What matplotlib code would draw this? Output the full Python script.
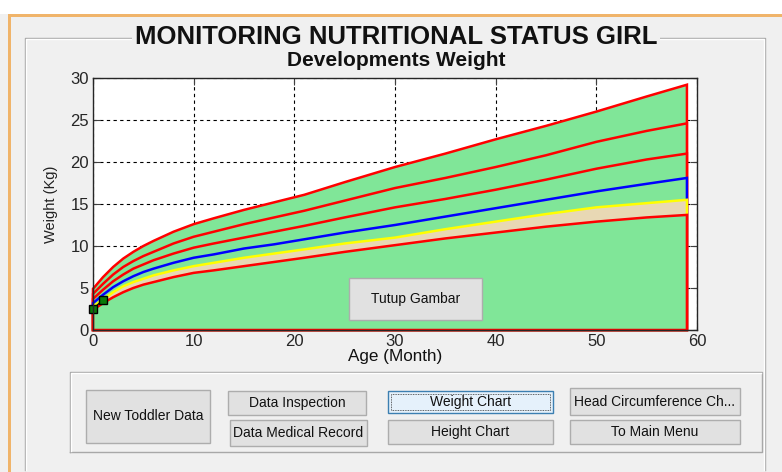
import matplotlib
matplotlib.use("Agg")
import matplotlib.pyplot as plt
from matplotlib.patches import Rectangle
from matplotlib.lines import Line2D

plt.rcParams['font.family'] = ['Liberation Sans', 'DejaVu Sans']

# ---- data ----
months = [0, 1, 2, 3, 4, 5, 6, 8, 10, 12, 15, 18, 21, 25, 30, 35, 40, 45, 50, 55, 59]
sd_p3 = [4.9, 6.3, 7.5, 8.5, 9.3, 10.0, 10.6, 11.7, 12.6, 13.3, 14.3, 15.2, 16.1, 17.6, 19.4, 21.0, 22.7, 24.3, 26.0, 27.8, 29.2]
sd_p2 = [4.3, 5.5, 6.6, 7.5, 8.2, 8.8, 9.3, 10.3, 11.1, 11.7, 12.6, 13.4, 14.2, 15.4, 16.9, 18.1, 19.4, 20.8, 22.4, 23.7, 24.6]
sd_p1 = [3.7, 4.8, 5.8, 6.6, 7.3, 7.8, 8.3, 9.1, 9.8, 10.3, 11.0, 11.7, 12.4, 13.4, 14.6, 15.6, 16.7, 17.9, 19.2, 20.3, 21.0]
sd_0 = [3.2, 4.2, 5.1, 5.8, 6.4, 6.9, 7.3, 8.0, 8.6, 9.0, 9.7, 10.2, 10.8, 11.6, 12.5, 13.5, 14.5, 15.5, 16.5, 17.4, 18.1]
sd_m1 = [2.8, 3.6, 4.5, 5.2, 5.7, 6.1, 6.5, 7.1, 7.6, 8.0, 8.6, 9.1, 9.6, 10.3, 11.0, 12.0, 12.9, 13.8, 14.6, 15.1, 15.5]
sd_m2 = [2.4, 3.2, 3.9, 4.5, 5.0, 5.4, 5.7, 6.3, 6.8, 7.1, 7.6, 8.1, 8.6, 9.3, 10.1, 10.9, 11.6, 12.3, 12.9, 13.4, 13.7]
child_age = [0, 1]
child_weight = [2.5, 3.6]

xticks = [0, 10, 20, 30, 40, 50, 60]
yticks = [0, 5, 10, 15, 20, 25, 30]

W, H = 782, 472
fig = plt.figure(figsize=(W / 100, H / 100), dpi=100)
fig.patch.set_facecolor('#f0f0f0')


def fx(x):
    return x / W


def fy(y):
    return 1 - y / H


def rect_px(x0, y0, x1, y1, **kw):
    r = Rectangle((fx(x0), fy(y1)), fx(x1) - fx(x0), fy(y0) - fy(y1),
                  transform=fig.transFigure, **kw)
    fig.add_artist(r)
    return r


def line_px(xs, ys, **kw):
    l = Line2D([fx(v) for v in xs], [fy(v) for v in ys], transform=fig.transFigure, **kw)
    fig.add_artist(l)
    return l


# window chrome
rect_px(0, 0, W, 14, facecolor='white', edgecolor='none', zorder=0)
rect_px(8, 14, W, 17, facecolor='#f0b46a', edgecolor='none', zorder=1)
rect_px(8, 14, 11, H, facecolor='#f0b46a', edgecolor='none', zorder=1)

# main panel border (etched)
line_px([25, 25, 765, 765], [470, 38, 38, 470], color='#a8a8a8', lw=1.0, zorder=1)
line_px([26, 26, 764, 764], [470, 39, 39, 470], color='white', lw=1.0, zorder=1)

# panel titles
fig.text(fx(396), fy(37), 'MONITORING NUTRITIONAL STATUS GIRL', ha='center', va='center',
         fontsize=18.5, fontweight='bold', color='#111111',
         bbox=dict(facecolor='#f0f0f0', edgecolor='none', pad=2), zorder=3)
fig.text(fx(396), fy(60), 'Developments Weight', ha='center', va='center',
         fontsize=15, fontweight='bold', color='#111111')

# ---- axes ----
ax = fig.add_axes([fx(93), fy(330), fx(697) - fx(93), fy(78) - fy(330)])
ax.set_facecolor('white')
ax.set_xlim(0, 60)
ax.set_ylim(0, 30)
ax.set_xticks(xticks)
ax.set_yticks(yticks)
ax.set_axisbelow(True)
ax.grid(True, color='black', linestyle=(0, (3, 3)), linewidth=0.8)

green = '#80e698'
tan = '#e8d8b4'
curves = [(sd_p3, green, 'red'), (sd_p2, green, 'red'), (sd_p1, green, 'red'),
          (sd_0, green, 'blue'), (sd_m1, tan, '#ffff00'), (sd_m2, green, 'red')]
for i, (c, fc, ec) in enumerate(curves):
    xs = list(months) + list(months[::-1])
    ys = list(c) + [0] * len(months)
    ax.fill(xs, ys, facecolor=fc, edgecolor=ec, linewidth=1.8, zorder=2 + i * 0.1,
            clip_on=False)

ax.plot(child_age, child_weight, color='black', linewidth=1.0, marker='s', markersize=5.5,
        markerfacecolor='#0a7a0a', markeredgecolor='black', zorder=4, clip_on=False)

for s in ax.spines.values():
    s.set_color('#262626')
    s.set_linewidth(1.0)
    s.set_zorder(5)
ax.tick_params(direction='in', length=5, width=0.8, color='#404040', top=True, right=True,
               labelsize=12, labelcolor='#262626', pad=3)
ax.set_xlabel('Age (Month)', fontsize=12.3, color='#111111', labelpad=0)
ax.set_ylabel('Weight (Kg)', fontsize=10.5, color='#222222', labelpad=9)


# ---- buttons ----
def button(x0, y0, x1, y1, label, fs=10, active=False, z=6):
    if active:
        rect_px(x0, y0, x1, y1, facecolor='#e5f1fb', edgecolor='#3c7fb1', lw=1.0, zorder=z)
        rect_px(x0 + 3, y0 + 3, x1 - 3, y1 - 3, facecolor='none', edgecolor='#333333',
                lw=0.6, linestyle=(0, (1, 1)), zorder=z)
    else:
        rect_px(x0, y0, x1, y1, facecolor='#e1e1e1', edgecolor='#adadad', lw=1.0, zorder=z)
    fig.text(fx((x0 + x1) / 2), fy((y0 + y1) / 2), label, ha='center', va='center',
             fontsize=fs, color='#111111', zorder=z + 1)


button(349, 278, 482, 320, 'Tutup Gambar', fs=10, z=10)

# button group panel
line_px([70, 70, 762, 762, 70], [452, 372, 372, 452, 452], color='#a8a8a8', lw=1.0, zorder=1)
line_px([71, 71, 761], [451, 373, 373], color='white', lw=1.0, zorder=1)

button(86, 390, 210, 443, 'New Toddler Data')
button(228, 391, 366, 415, 'Data Inspection')
button(230, 420, 367, 446, 'Data Medical Record')
button(388, 391, 553, 413, 'Weight Chart', active=True)
button(388, 420, 553, 444, 'Height Chart')
button(570, 388, 740, 415, 'Head Circumference Ch...')
button(570, 420, 740, 444, 'To Main Menu')

fig.savefig('out.png', dpi=100, facecolor=fig.get_facecolor())
